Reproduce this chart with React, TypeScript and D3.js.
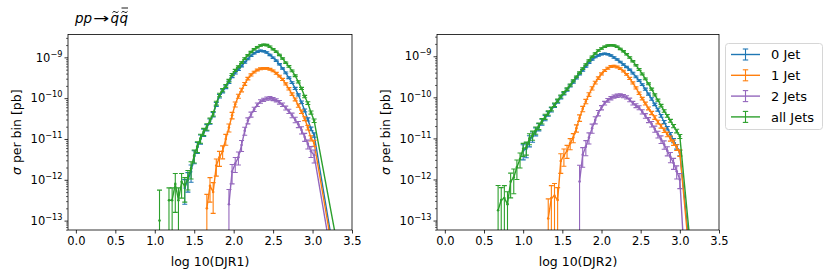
import React, { useEffect, useRef } from "react";
import * as d3 from "d3";

const seriesNames = ["0 Jet", "1 Jet", "2 Jets", "all Jets"];
const seriesColors = ["#1f77b4", "#ff7f0e", "#9467bd", "#2ca02c"];

const xTicks = [0, 0.5, 1, 1.5, 2, 2.5, 3, 3.5];
const yTickExps = [-13, -12, -11, -10, -9];

// bin centres: first bin of each histogram, common bin width
const djr1Start = 1.06;
const djr2Start = 0.68;
const binWidth = 0.04;

// log10(sigma per bin / pb); null = empty bin
const djr1Jet0 = [
  null, null, null, null, null, null, null, null, -12.2, -12.0,
  -11.8, -11.42, -11.2, -11.0, -10.84, -10.72, -10.57, -10.4, -10.15, -9.95,
  -9.83, -9.73, -9.61, -9.47, -9.38, -9.3, -9.21, -9.12, -9.04, -8.96,
  -8.9, -8.86, -8.84, -8.85, -8.88, -8.94, -9.01, -9.08, -9.17, -9.27,
  -9.38, -9.5, -9.62, -9.76, -9.92, -10.1, -10.3, -10.52, -10.75, -10.9,
];
const djr1Jet1 = [
  null, null, null, null, null, null, null, null, null, null,
  null, null, null, null, null, -12.7, -12.15, -12.3, -11.65, -11.45,
  -11.3, -11.0, -10.72, -10.42, -10.15, -9.95, -9.8, -9.65, -9.52, -9.43,
  -9.36, -9.31, -9.28, -9.27, -9.27, -9.29, -9.33, -9.39, -9.46, -9.54,
  -9.65, -9.77, -9.9, -10.03, -10.18, -10.33, -10.5, -10.72, -10.98, -11.1,
];
const djr1Jet2 = [
  null, null, null, null, null, null, null, null, null, null,
  null, null, null, null, null, null, null, null, null, null,
  null, null, -12.6, -11.8, -11.6, -11.45, -11.15, -10.8, -10.55, -10.4,
  -10.27, -10.16, -10.08, -10.04, -10.01, -10.0, -10.02, -10.05, -10.1, -10.16,
  -10.24, -10.32, -10.42, -10.53, -10.64, -10.78, -10.95, -11.12, -11.3, -11.4,
];
const djr1All = [
  -13.0, null, null, -12.5, -12.5, -12.1, -12.5, -12.05, -12.15, -11.95,
  -11.72, -11.4, -11.18, -10.98, -10.82, -10.7, -10.55, -10.38, -10.12, -9.92,
  -9.8, -9.7, -9.57, -9.42, -9.32, -9.23, -9.13, -9.03, -8.95, -8.87,
  -8.8, -8.75, -8.71, -8.69, -8.7, -8.74, -8.8, -8.86, -8.94, -9.03,
  -9.13, -9.22, -9.33, -9.45, -9.6, -9.76, -9.96, -10.12, -10.35, -10.55,
];

// relative statistical error per bin
const djr1Jet0Err = [
  0, 0, 0, 0, 0, 0, 0, 0, 0.6, 0.5,
  0.45, 0.35, 0.3, 0.25, 0.2, 0.18, 0.15, 0.13, 0.11, 0.1,
  0.09, 0.08, 0.07, 0.06, 0.06, 0.05, 0.05, 0.05, 0.04, 0.04,
  0.04, 0.04, 0.04, 0.04, 0.04, 0.04, 0.04, 0.04, 0.04, 0.04,
  0.05, 0.05, 0.05, 0.06, 0.06, 0.07, 0.08, 0.09, 0.1, 0.12,
];
const djr1Jet1Err = [
  0, 0, 0, 0, 0, 0, 0, 0, 0, 0,
  0, 0, 0, 0, 0, 1.2, 0.6, 0.7, 0.45, 0.4,
  0.35, 0.3, 0.22, 0.18, 0.14, 0.11, 0.1, 0.08, 0.07, 0.06,
  0.05, 0.05, 0.05, 0.05, 0.05, 0.05, 0.05, 0.05, 0.05, 0.06,
  0.06, 0.07, 0.07, 0.08, 0.09, 0.1, 0.11, 0.13, 0.15, 0.17,
];
const djr1Jet2Err = [
  0, 0, 0, 0, 0, 0, 0, 0, 0, 0,
  0, 0, 0, 0, 0, 0, 0, 0, 0, 0,
  0, 0, 1.3, 0.5, 0.4, 0.35, 0.3, 0.22, 0.17, 0.14,
  0.12, 0.1, 0.1, 0.09, 0.09, 0.09, 0.09, 0.09, 0.1, 0.1,
  0.11, 0.12, 0.13, 0.15, 0.17, 0.2, 0.22, 0.25, 0.3, 0.35,
];
const djr1AllErr = [
  4.6, 0, 0, 1.0, 1.0, 0.8, 1.0, 0.6, 0.6, 0.5,
  0.45, 0.35, 0.3, 0.25, 0.2, 0.18, 0.15, 0.13, 0.11, 0.1,
  0.09, 0.08, 0.07, 0.06, 0.06, 0.05, 0.05, 0.05, 0.04, 0.04,
  0.04, 0.04, 0.04, 0.04, 0.04, 0.04, 0.04, 0.04, 0.04, 0.04,
  0.04, 0.05, 0.05, 0.05, 0.06, 0.06, 0.07, 0.08, 0.09, 0.1,
];

const djr2Jet0 = [
  null, null, null, null, null, null, null, null, -11.3, -11.25,
  -11.05, -10.95, -10.83, -10.72, -10.6, -10.5, -10.4, -10.3, -10.2, -10.1,
  -10.0, -9.91, -9.82, -9.72, -9.63, -9.53, -9.43, -9.34, -9.25, -9.16,
  -9.08, -9.02, -8.98, -8.95, -8.94, -8.95, -8.98, -9.03, -9.08, -9.14,
  -9.2, -9.26, -9.33, -9.41, -9.5, -9.59, -9.69, -9.8, -9.92, -10.04,
  -10.17, -10.3, -10.45, -10.6, -10.75, -10.9, -11.05, -11.2, -11.35,
];
const djr2Jet1 = [
  null, null, null, null, null, null, null, null, null, null,
  null, null, null, null, null, null, -12.95, -12.45, -12.4, -12.5,
  -11.55, -11.42, -11.3, -11.12, -10.98, -10.75, -10.5, -10.28, -10.1, -9.93,
  -9.78, -9.64, -9.53, -9.43, -9.35, -9.29, -9.25, -9.24, -9.26, -9.3,
  -9.36, -9.44, -9.54, -9.65, -9.77, -9.9, -10.03, -10.15, -10.27, -10.38,
  -10.49, -10.6, -10.7, -10.8, -10.9, -11.0, -11.1, -11.22, -11.35,
];
const djr2Jet2 = [
  null, null, null, null, null, null, null, null, null, null,
  null, null, null, null, null, null, null, null, null, null,
  null, null, null, null, null, null, -12.05, -11.4, -11.2, -10.98,
  -10.75, -10.55, -10.38, -10.25, -10.14, -10.07, -10.02, -9.98, -9.96, -9.95,
  -9.97, -10.0, -10.06, -10.14, -10.2, -10.25, -10.35, -10.45, -10.55, -10.65,
  -10.77, -10.9, -11.02, -11.15, -11.3, -11.45, -11.6, -11.8, -12.0,
];
const djr2All = [
  -12.75, -12.5, -12.45, -12.6, -12.05, -11.95, -11.7, -11.5, -11.25, -11.22,
  -11.0, -10.92, -10.8, -10.7, -10.58, -10.47, -10.38, -10.28, -10.18, -10.08,
  -9.98, -9.89, -9.8, -9.7, -9.6, -9.5, -9.4, -9.3, -9.2, -9.1,
  -9.01, -8.93, -8.86, -8.81, -8.77, -8.74, -8.73, -8.74, -8.77, -8.82,
  -8.88, -8.95, -9.03, -9.12, -9.22, -9.32, -9.43, -9.55, -9.67, -9.8,
  -9.94, -10.07, -10.2, -10.33, -10.45, -10.57, -10.7, -10.82, -10.95,
];

const djr2Jet0Err = [
  0, 0, 0, 0, 0, 0, 0, 0, 0.4, 0.4,
  0.3, 0.28, 0.22, 0.2, 0.17, 0.15, 0.13, 0.12, 0.1, 0.09,
  0.08, 0.07, 0.07, 0.06, 0.06, 0.05, 0.05, 0.05, 0.04, 0.04,
  0.04, 0.04, 0.04, 0.04, 0.04, 0.04, 0.04, 0.04, 0.04, 0.04,
  0.04, 0.04, 0.04, 0.05, 0.05, 0.05, 0.05, 0.06, 0.06, 0.07,
  0.07, 0.08, 0.08, 0.09, 0.1, 0.11, 0.12, 0.13, 0.15,
];
const djr2Jet1Err = [
  0, 0, 0, 0, 0, 0, 0, 0, 0, 0,
  0, 0, 0, 0, 0, 0, 2.0, 1.0, 1.0, 1.0,
  0.5, 0.45, 0.35, 0.3, 0.25, 0.2, 0.18, 0.15, 0.12, 0.1,
  0.09, 0.08, 0.07, 0.06, 0.05, 0.05, 0.05, 0.05, 0.05, 0.05,
  0.05, 0.05, 0.06, 0.06, 0.06, 0.07, 0.07, 0.08, 0.08, 0.09,
  0.1, 0.1, 0.11, 0.12, 0.13, 0.14, 0.15, 0.16, 0.18,
];
const djr2Jet2Err = [
  0, 0, 0, 0, 0, 0, 0, 0, 0, 0,
  0, 0, 0, 0, 0, 0, 0, 0, 0, 0,
  0, 0, 0, 0, 0, 0, 1.5, 0.5, 0.4, 0.3,
  0.25, 0.2, 0.15, 0.12, 0.1, 0.1, 0.09, 0.09, 0.09, 0.09,
  0.09, 0.09, 0.1, 0.1, 0.11, 0.11, 0.12, 0.13, 0.14, 0.15,
  0.17, 0.19, 0.21, 0.23, 0.25, 0.28, 0.3, 0.35, 0.4,
];
const djr2AllErr = [
  3.0, 1.0, 1.0, 1.0, 0.6, 0.6, 0.5, 0.4, 0.35, 0.35,
  0.3, 0.25, 0.2, 0.18, 0.15, 0.14, 0.12, 0.11, 0.1, 0.09,
  0.08, 0.07, 0.07, 0.06, 0.06, 0.05, 0.05, 0.05, 0.04, 0.04,
  0.04, 0.04, 0.04, 0.04, 0.04, 0.04, 0.04, 0.04, 0.04, 0.04,
  0.04, 0.04, 0.04, 0.04, 0.04, 0.05, 0.05, 0.05, 0.05, 0.06,
  0.06, 0.06, 0.07, 0.07, 0.08, 0.08, 0.09, 0.1, 0.11,
];

// where each line runs off after its last filled bin (log10 sigma)
const djr1TailX = [3.4, 3.4, 3.4, 3.4];
const djr1TailY = [-15.3, -15.4, -15.7, -14.5];
const djr2TailX = [3.2, 3.2, 3.06, 3.2];
const djr2TailY = [-15.1, -15.5, -14.0, -14.9];

const yMinExp = -13.23;

const panels = [
  {
    label: "log 10(DJR1)",
    left: 68, right: 352, top: 34.5, bottom: 230, yMaxExp: -8.44, ylabelX: 17,
    start: djr1Start,
    series: [djr1Jet0, djr1Jet1, djr1Jet2, djr1All],
    errors: [djr1Jet0Err, djr1Jet1Err, djr1Jet2Err, djr1AllErr],
    tailX: djr1TailX, tailY: djr1TailY,
  },
  {
    label: "log 10(DJR2)",
    left: 437, right: 719, top: 34.5, bottom: 230, yMaxExp: -8.47, ylabelX: 386,
    start: djr2Start,
    series: [djr2Jet0, djr2Jet1, djr2Jet2, djr2All],
    errors: [djr2Jet0Err, djr2Jet1Err, djr2Jet2Err, djr2AllErr],
    tailX: djr2TailX, tailY: djr2TailY,
  },
];

type Pt = { bx: number; v: number | null; e: number };

const Chart: React.FC = () => {
  const svgRef = useRef<SVGSVGElement | null>(null);

  useEffect(() => {
    if (!svgRef.current) return;
    const svg = d3.select(svgRef.current);
    svg.selectAll("*").remove();
    const font = "DejaVu Sans, sans-serif";

    panels.forEach((p, pi) => {
      const x = d3.scaleLinear().domain([-0.1, 3.5]).range([p.left, p.right]);
      const y = d3
        .scaleLog()
        .domain([10 ** yMinExp, 10 ** p.yMaxExp])
        .range([p.bottom, p.top]);

      const clipId = `clip-${pi}`;
      svg
        .append("clipPath")
        .attr("id", clipId)
        .append("rect")
        .attr("x", p.left)
        .attr("y", p.top)
        .attr("width", p.right - p.left)
        .attr("height", p.bottom - p.top);

      const plot = svg.append("g").attr("clip-path", `url(#${clipId})`);
      const below = p.bottom + 20;

      p.series.forEach((vals, si) => {
        const color = seriesColors[si];
        const pts: Pt[] = vals.map((v, i) => ({
          bx: p.start + i * binWidth,
          v,
          e: p.errors[si][i],
        }));
        const linePts: Pt[] = [...pts, { bx: p.tailX[si], v: p.tailY[si], e: 0 }];

        const line = d3
          .line<Pt>()
          .defined((d) => d.v !== null)
          .x((d) => x(d.bx))
          .y((d) => y(10 ** (d.v as number)));

        plot
          .append("path")
          .attr("d", line(linePts))
          .attr("fill", "none")
          .attr("stroke", color)
          .attr("stroke-width", 1.4)
          .attr("stroke-linejoin", "round");

        const filled = pts.filter((d) => d.v !== null);
        const val = (d: Pt) => 10 ** (d.v as number);
        const hi = (d: Pt) => y(val(d) * (1 + d.e));
        const lo = (d: Pt) => (d.e >= 1 ? below : y(val(d) * (1 - d.e)));

        plot
          .append("g")
          .selectAll("line")
          .data(filled)
          .join("line")
          .attr("x1", (d) => x(d.bx))
          .attr("x2", (d) => x(d.bx))
          .attr("y1", hi)
          .attr("y2", lo)
          .attr("stroke", color)
          .attr("stroke-width", 1.1);

        const caps = plot.append("g").attr("stroke", color).attr("stroke-width", 1.1);
        caps
          .selectAll("line.hi")
          .data(filled)
          .join("line")
          .attr("class", "hi")
          .attr("x1", (d) => x(d.bx) - 2.5)
          .attr("x2", (d) => x(d.bx) + 2.5)
          .attr("y1", hi)
          .attr("y2", hi);
        caps
          .selectAll("line.lo")
          .data(filled.filter((d) => d.e < 1))
          .join("line")
          .attr("class", "lo")
          .attr("x1", (d) => x(d.bx) - 2.5)
          .attr("x2", (d) => x(d.bx) + 2.5)
          .attr("y1", lo)
          .attr("y2", lo);

        plot
          .append("g")
          .selectAll("circle")
          .data(filled)
          .join("circle")
          .attr("cx", (d) => x(d.bx))
          .attr("cy", (d) => y(val(d)))
          .attr("r", 1.3)
          .attr("fill", color);
      });

      // x axis
      svg
        .append("g")
        .attr("transform", `translate(0,${p.bottom})`)
        .call(
          d3
            .axisBottom(x)
            .tickValues(xTicks)
            .tickFormat(d3.format(".1f"))
            .tickSize(3.5)
            .tickPadding(3)
        )
        .call((g) => g.select(".domain").remove())
        .call((g) => g.selectAll("line").attr("stroke", "#000").attr("stroke-width", 0.8))
        .call((g) =>
          g.selectAll("text").attr("font-family", font).attr("font-size", 11.5).attr("fill", "#000")
        );

      // y axis: minor ticks
      const minors: number[] = [];
      for (let n = -14; n <= -8; n++) {
        for (let k = 2; k <= 9; k++) {
          const v = k * 10 ** n;
          if (Math.log10(v) >= yMinExp && Math.log10(v) <= p.yMaxExp) minors.push(v);
        }
      }
      svg
        .append("g")
        .attr("transform", `translate(${p.left},0)`)
        .call(d3.axisLeft(y).tickValues(minors).tickFormat(() => "").tickSize(2))
        .call((g) => g.select(".domain").remove())
        .call((g) => g.selectAll("line").attr("stroke", "#000").attr("stroke-width", 0.6));

      const majors = yTickExps.map((e) => 10 ** e);
      svg
        .append("g")
        .attr("transform", `translate(${p.left},0)`)
        .call(d3.axisLeft(y).tickValues(majors).tickFormat(() => "").tickSize(3.5))
        .call((g) => g.select(".domain").remove())
        .call((g) => g.selectAll("line").attr("stroke", "#000").attr("stroke-width", 0.8));

      yTickExps.forEach((e) => {
        const t = svg
          .append("text")
          .attr("x", p.left - 5.5)
          .attr("y", y(10 ** e) + 4.2)
          .attr("text-anchor", "end")
          .attr("font-family", font)
          .attr("font-size", 11.5);
        t.append("tspan").text("10");
        t.append("tspan").attr("font-size", 8.2).attr("dy", -5).text("\u2212" + Math.abs(e));
      });

      // frame
      svg
        .append("rect")
        .attr("x", p.left)
        .attr("y", p.top)
        .attr("width", p.right - p.left)
        .attr("height", p.bottom - p.top)
        .attr("fill", "none")
        .attr("stroke", "#000")
        .attr("stroke-width", 0.8);

      // axis labels
      svg
        .append("text")
        .attr("x", (p.left + p.right) / 2)
        .attr("y", 266)
        .attr("text-anchor", "middle")
        .attr("font-family", font)
        .attr("font-size", 12.5)
        .text(p.label);

      const yl = svg
        .append("text")
        .attr("transform", `translate(${p.ylabelX + 4},${(p.top + p.bottom) / 2}) rotate(-90)`)
        .attr("text-anchor", "middle")
        .attr("font-family", font)
        .attr("font-size", 12.5);
      yl.append("tspan").attr("font-style", "italic").text("\u03c3");
      yl.append("tspan").text(" per bin [pb]");
    });

    // title: pp -> q~ q~bar, accents drawn as small strokes
    const addText = (tx: number, ty: number, s: string, italic: boolean) =>
      svg
        .append("text")
        .attr("x", tx)
        .attr("y", ty)
        .attr("font-family", font)
        .attr("font-size", 13.5)
        .attr("font-style", italic ? "italic" : "normal")
        .text(s);
    addText(75, 22.5, "pp", true);
    addText(93, 22.5, "\u2192", false).attr("textLength", 16).attr("lengthAdjust", "spacingAndGlyphs");
    addText(110.5, 22.5, "q", true);
    addText(119.5, 22.5, "q", true);
    const tilde = (tx: number, ty: number) =>
      svg
        .append("path")
        .attr("d", `M${tx},${ty + 0.6} q1.4,-2.2 3,-0.6 t3,-0.6`)
        .attr("fill", "none")
        .attr("stroke", "#000")
        .attr("stroke-width", 0.9);
    tilde(112.5, 12);
    tilde(121.5, 12);
    svg
      .append("line")
      .attr("x1", 121.5)
      .attr("x2", 128)
      .attr("y1", 8)
      .attr("y2", 8)
      .attr("stroke", "#000")
      .attr("stroke-width", 0.9);

    // legend
    const lg = svg.append("g");
    lg.append("rect")
      .attr("x", 725.5)
      .attr("y", 43.5)
      .attr("width", 97)
      .attr("height", 86)
      .attr("rx", 3)
      .attr("fill", "#fff")
      .attr("fill-opacity", 0.8)
      .attr("stroke", "#d6d6d6")
      .attr("stroke-width", 1);
    seriesNames.forEach((name, i) => {
      const cy = 54.5 + i * 20.8;
      const c = seriesColors[i];
      lg.append("line").attr("x1", 731).attr("x2", 760).attr("y1", cy).attr("y2", cy)
        .attr("stroke", c).attr("stroke-width", 1.4);
      lg.append("line").attr("x1", 745.5).attr("x2", 745.5).attr("y1", cy - 5.5).attr("y2", cy + 5.5)
        .attr("stroke", c).attr("stroke-width", 1.1);
      [cy - 5.5, cy + 5.5].forEach((yy) =>
        lg.append("line").attr("x1", 742.8).attr("x2", 748.2).attr("y1", yy).attr("y2", yy)
          .attr("stroke", c).attr("stroke-width", 1.1)
      );
      lg.append("text")
        .attr("x", 771)
        .attr("y", cy + 4.6)
        .attr("font-family", font)
        .attr("font-size", 13)
        .text(name);
    });
  }, []);

  return (
    <svg
      ref={svgRef}
      width={831}
      height={278}
      style={{ position: "absolute", left: 0, top: 0, background: "#fff" }}
    />
  );
};

export default function App() {
  return <Chart />;
}
